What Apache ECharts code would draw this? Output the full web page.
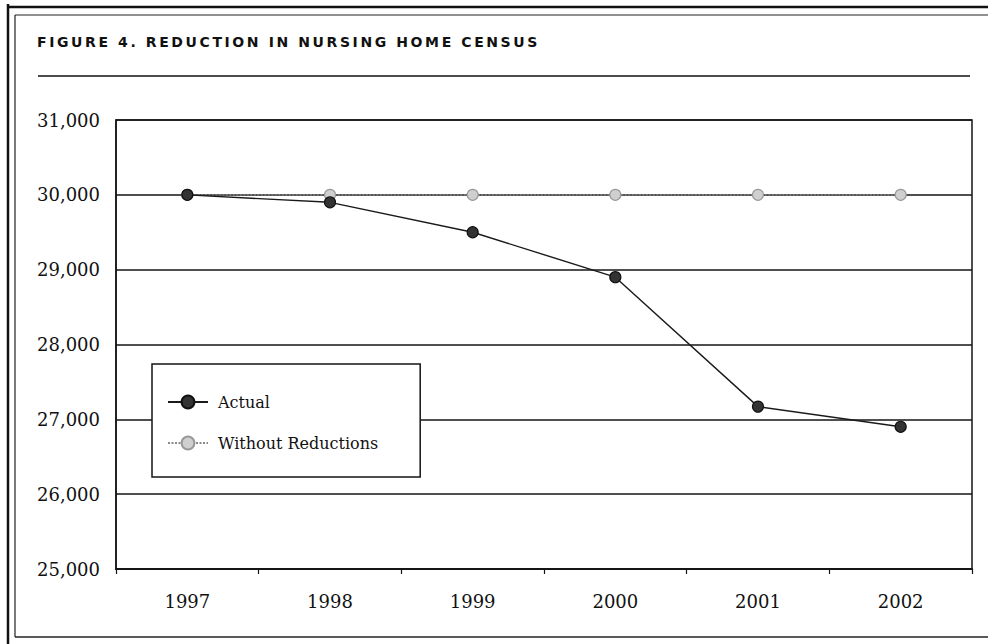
<!DOCTYPE html>
<html>
<head>
<meta charset="utf-8">
<script src="https://cdn.jsdelivr.net/npm/echarts@6/dist/echarts.min.js"></script>
<style>
  html, body { margin: 0; padding: 0; background: #fff; }
  #chart { width: 988px; height: 644px; }
  #chart text[style*="DejaVu Sans"] { letter-spacing: 2.6px; }
</style>
</head>
<body>
<div id="chart"></div>
<script>
const titleText = 'FIGURE 4. REDUCTION IN NURSING HOME CENSUS';
const years = ['1997', '1998', '1999', '2000', '2001', '2002'];
const actual = [30000, 29900, 29500, 28900, 27170, 26900];
const withoutReductions = [30000, 30000, 30000, 30000, 30000, 30000];
const seriesNames = ['Actual', 'Without Reductions'];
const yMin = 25000, yMax = 31000, yStep = 1000;

const serif = '"DejaVu Serif", "Liberation Serif", serif';
const ink = '#141414';

const chart = echarts.init(document.getElementById('chart'), null, { renderer: 'svg' });
chart.setOption({
  animation: false,
  backgroundColor: '#ffffff',
  title: {
    text: titleText,
    left: 37,
    top: 35,
    padding: 0,
    textStyle: { fontFamily: 'DejaVu Sans', fontWeight: 'bold', fontSize: 14, color: '#111' }
  },
  graphic: [
    { type: 'line', shape: { x1: 8, y1: 4, x2: 8, y2: 644 }, style: { stroke: '#111', lineWidth: 2.5 } },
    { type: 'line', shape: { x1: 8, y1: 7, x2: 988, y2: 7 }, style: { stroke: '#111', lineWidth: 2.5 } },
    { type: 'line', shape: { x1: 15, y1: 15, x2: 15, y2: 637 }, style: { stroke: '#222', lineWidth: 1.2 } },
    { type: 'line', shape: { x1: 15, y1: 15, x2: 988, y2: 15 }, style: { stroke: '#222', lineWidth: 1.2 } },
    { type: 'line', shape: { x1: 15, y1: 637, x2: 988, y2: 637 }, style: { stroke: '#222', lineWidth: 1.5 } },
    { type: 'line', shape: { x1: 38, y1: 76, x2: 970, y2: 76 }, style: { stroke: '#111', lineWidth: 1.5 } }
  ],
  grid: {
    left: 116, right: 16, top: 120, bottom: 75,
    show: true, borderColor: ink, borderWidth: 1.5, backgroundColor: 'transparent'
  },
  legend: {
    orient: 'vertical',
    left: 152,
    top: 364,
    data: seriesNames,
    backgroundColor: '#ffffff',
    borderColor: ink,
    borderWidth: 1.5,
    borderRadius: 0,
    padding: [30, 42, 26, 15],
    itemWidth: 40,
    itemHeight: 16,
    itemGap: 25,
    textStyle: { fontFamily: serif, fontSize: 16, color: '#111', lineHeight: 16, padding: [0, 0, 0, 5] }
  },
  xAxis: {
    type: 'category',
    data: years,
    boundaryGap: true,
    axisLine: { show: true, lineStyle: { color: ink, width: 2 } },
    axisTick: { show: true, length: 5, lineStyle: { color: ink, width: 1.2 } },
    axisLabel: { fontFamily: serif, fontSize: 18, color: '#111', margin: 23 },
    splitLine: { show: false }
  },
  yAxis: {
    type: 'value',
    min: yMin,
    max: yMax,
    interval: yStep,
    axisLine: { show: true, lineStyle: { color: ink, width: 1.5 } },
    axisTick: { show: false },
    axisLabel: {
      fontFamily: serif, fontSize: 18, color: '#111', margin: 16,
      padding: [0, 0, 6, 0],
      formatter: v => v.toLocaleString('en-US')
    },
    splitLine: { show: true, lineStyle: { color: ink, width: 1.5 } }
  },
  series: [
    {
      name: seriesNames[0],
      type: 'line',
      data: actual,
      symbol: 'circle',
      symbolSize: 11,
      z: 4,
      lineStyle: { color: '#1a1a1a', width: 1.4 },
      itemStyle: { color: '#333333', borderColor: '#111', borderWidth: 1.2 }
    },
    {
      name: seriesNames[1],
      type: 'line',
      data: withoutReductions,
      symbol: 'circle',
      symbolSize: 11,
      z: 3,
      lineStyle: { color: '#8a8a8a', width: 1.4, type: [2, 1.5] },
      itemStyle: { color: '#cfcfcf', borderColor: '#999', borderWidth: 1.2 }
    }
  ]
});
</script>
</body>
</html>
